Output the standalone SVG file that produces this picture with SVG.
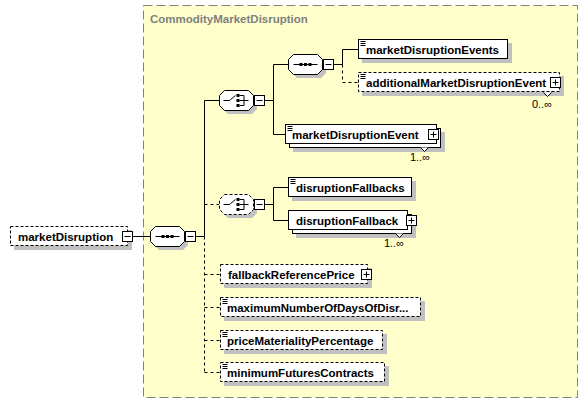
<svg xmlns="http://www.w3.org/2000/svg" width="588" height="404" viewBox="0 0 588 404">
<style>
  .bg{fill:#ffffff}
  .frame{fill:#ffffcc;stroke:#808080;stroke-width:1;stroke-dasharray:9,4}
  .title{font-family:"Liberation Sans",Arial,sans-serif;font-size:11.5px;font-weight:bold;fill:#808080}
  .box{fill:#ffffff;stroke:#000000;stroke-width:1}
  .opt{stroke-dasharray:3,2}
  .sh{fill:#c0c0c0;stroke:none}
  .lbl{font-family:"Liberation Sans",Arial,sans-serif;font-size:11.5px;font-weight:bold;fill:#000000}
  .occ{font-family:"Liberation Sans",Arial,sans-serif;font-size:11px;fill:#000000}
  .ln{fill:none;stroke:#000000;stroke-width:1}
  .dl{fill:none;stroke:#000000;stroke-width:1;stroke-dasharray:3,3}
  .ic{fill:none;stroke:#000000;stroke-width:1}
</style>
<defs>
  <path id="oct" d="M5,0 H29 L34,5 V15 L29,20 H5 L0,15 V5 Z"/>
  <g id="minus">
    <rect x="0.5" y="0.5" width="10" height="10" fill="#ffffff" stroke="#000000"/>
    <path d="M2.5,5.5 H8.5" stroke="#000000"/>
  </g>
  <g id="plus">
    <rect x="0.5" y="0.5" width="10" height="10" fill="#ffffff" stroke="#000000"/>
    <path d="M2.5,5.5 H8.5 M5.5,2.5 V8.5" stroke="#000000"/>
  </g>
  <g id="seqIcon">
    <path d="M5,10.5 H29" stroke="#000000"/>
    <rect x="11" y="9" width="3" height="3" fill="#000000"/>
    <rect x="15.5" y="9" width="3" height="3" fill="#000000"/>
    <rect x="20" y="9" width="3" height="3" fill="#000000"/>
  </g>
  <g id="choiceIcon">
    <path d="M4,10.5 H10 L16,5.5" fill="none" stroke="#000000"/>
    <rect x="17" y="4" width="3" height="3" fill="#000000"/>
    <rect x="17" y="9" width="3" height="3" fill="#000000"/>
    <rect x="17" y="14" width="3" height="3" fill="#000000"/>
    <path d="M20,5.5 H24.5 V15.5 H20 M20,10.5 H29" fill="none" stroke="#000000"/>
  </g>
  <path id="doc" d="M2,2.5 H7 M2,4.5 H7 M2,6.5 H7" stroke="#000000" fill="none"/>
</defs>

<rect class="bg" x="0" y="0" width="588" height="404"/>

<g id="CommodityMarketDisruption">
  <rect class="frame" x="143.5" y="5.5" width="434" height="392"/>
  <text class="title" x="150" y="23">CommodityMarketDisruption</text>
</g>

<g id="connectors">
  <path class="ln" d="M133,236.5 H150"/>
  <path class="ln" d="M196,236.5 H204.5 M204.5,100.5 V236.5 M204.5,100.5 H219"/>
  <path class="dl" d="M204.5,236.5 V372.5 M204.5,204.5 H219 M204.5,274.5 H220 M204.5,307.5 H220 M204.5,340.5 H220 M204.5,372.5 H220"/>
  <path class="ln" d="M265,100.5 H273.5 M273.5,64.5 V134.5 M273.5,64.5 H288 M273.5,134.5 H285"/>
  <path class="ln" d="M334,64.5 H342.5 M342.5,49.5 V64.5 M342.5,49.5 H358"/>
  <path class="dl" d="M342.5,64.5 V82.5 H358"/>
  <path class="ln" d="M265,204.5 H273.5 M273.5,187.5 V220.5 M273.5,187.5 H288 M273.5,220.5 H288"/>
</g>

<g id="marketDisruption">
  <rect class="sh" x="14" y="230" width="118" height="20"/>
  <rect class="box opt" x="10.5" y="226.5" width="117" height="19"/>
  <text class="lbl" x="18" y="240.5">marketDisruption</text>
  <use href="#minus" x="122" y="231"/>
</g>

<g id="sequence1">
  <use href="#oct" x="154" y="230" class="sh"/>
  <use href="#oct" x="150.5" y="226.5" fill="#ffffff" stroke="#000000"/>
  <use href="#seqIcon" x="150.5" y="226"/>
  <use href="#minus" x="185" y="231"/>
</g>

<g id="choice1">
  <use href="#oct" x="223" y="94" class="sh"/>
  <use href="#oct" x="219.5" y="90.5" fill="#ffffff" stroke="#000000"/>
  <use href="#choiceIcon" x="219.5" y="90"/>
  <use href="#minus" x="254" y="95"/>
</g>

<g id="sequence2">
  <use href="#oct" x="292" y="58" class="sh"/>
  <use href="#oct" x="288.5" y="54.5" fill="#ffffff" stroke="#000000"/>
  <use href="#seqIcon" x="288.5" y="54"/>
  <use href="#minus" x="323" y="59"/>
</g>

<g id="marketDisruptionEvents">
  <rect class="sh" x="362" y="43" width="150" height="20"/>
  <rect class="box" x="358.5" y="39.5" width="149" height="19"/>
  <use href="#doc" x="358.5" y="39"/>
  <text class="lbl" x="366" y="53.5">marketDisruptionEvents</text>
</g>

<g id="additionalMarketDisruptionEvent">
  <rect class="sh" x="362" y="76" width="202" height="20"/>
  <rect class="box opt" x="358.5" y="72.5" width="201" height="19"/>
  <use href="#doc" x="358.5" y="72"/>
  <text class="lbl" x="366" y="86.5">additionalMarketDisruptionEvent</text>
  <use href="#plus" x="550" y="77"/>
  <path d="M543.5,92.5 L547.5,96.5 L551.5,92.5" fill="#ffffff" stroke="#000000"/>
  <text class="occ" x="552" y="108" text-anchor="end">0..∞</text>
</g>

<g id="marketDisruptionEvent">
  <rect class="sh" x="293" y="132" width="152" height="20"/>
  <rect class="box" x="289.5" y="128.5" width="151" height="19"/>
  <rect class="box" x="285.5" y="124.5" width="151" height="19"/>
  <use href="#doc" x="285.5" y="124"/>
  <text class="lbl" x="292" y="138.5">marketDisruptionEvent</text>
  <use href="#plus" x="428" y="129"/>
  <path d="M420.5,147.5 L424.5,151.5 L428.5,147.5" fill="#ffffff" stroke="#000000"/>
  <text class="occ" x="430" y="161" text-anchor="end">1..∞</text>
</g>

<g id="choice2">
  <use href="#oct" x="223" y="198" class="sh"/>
  <use href="#oct" x="219.5" y="194.5" fill="#ffffff" stroke="#000000" stroke-dasharray="3,2"/>
  <use href="#choiceIcon" x="219.5" y="194"/>
  <use href="#minus" x="254" y="199"/>
</g>

<g id="disruptionFallbacks">
  <rect class="sh" x="292" y="181" width="124" height="20"/>
  <rect class="box" x="288.5" y="177.5" width="123" height="19"/>
  <use href="#doc" x="288.5" y="177"/>
  <text class="lbl" x="296" y="191.5">disruptionFallbacks</text>
</g>

<g id="disruptionFallback">
  <rect class="sh" x="296" y="218" width="120" height="20"/>
  <rect class="box" x="292.5" y="214.5" width="119" height="19"/>
  <rect class="box" x="288.5" y="210.5" width="119" height="19"/>
  <text class="lbl" x="296" y="224.5">disruptionFallback</text>
  <use href="#plus" x="406" y="215"/>
  <path d="M395.5,233.5 L399.5,237.5 L403.5,233.5" fill="#ffffff" stroke="#000000"/>
  <text class="occ" x="404" y="247" text-anchor="end">1..∞</text>
</g>

<g id="fallbackReferencePrice">
  <rect class="sh" x="224" y="268" width="148" height="20"/>
  <rect class="box opt" x="220.5" y="264.5" width="147" height="19"/>
  <text class="lbl" x="228" y="278.5">fallbackReferencePrice</text>
  <use href="#plus" x="361" y="269"/>
</g>

<g id="maximumNumberOfDaysOfDisruption">
  <rect class="sh" x="224" y="301" width="201" height="20"/>
  <rect class="box opt" x="220.5" y="297.5" width="200" height="19"/>
  <use href="#doc" x="220.5" y="297"/>
  <text class="lbl" x="227" y="311.5">maximumNumberOfDaysOfDisr...</text>
</g>

<g id="priceMaterialityPercentage">
  <rect class="sh" x="224" y="334" width="163" height="20"/>
  <rect class="box opt" x="220.5" y="330.5" width="162" height="19"/>
  <use href="#doc" x="220.5" y="330"/>
  <text class="lbl" x="227" y="344.5">priceMaterialityPercentage</text>
</g>

<g id="minimumFuturesContracts">
  <rect class="sh" x="224" y="366" width="165" height="20"/>
  <rect class="box opt" x="220.5" y="362.5" width="164" height="19"/>
  <use href="#doc" x="220.5" y="362"/>
  <text class="lbl" x="227" y="376.5">minimumFuturesContracts</text>
</g>
</svg>
